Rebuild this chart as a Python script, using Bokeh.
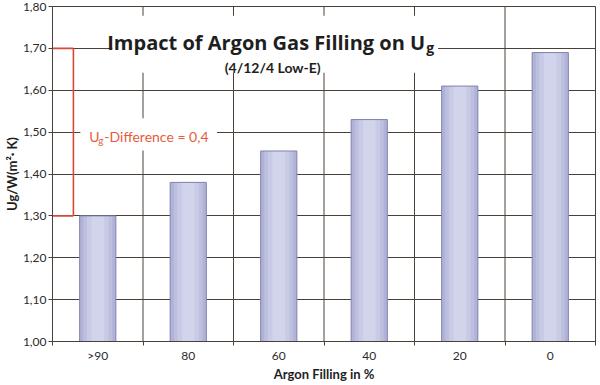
from bokeh.plotting import figure
from bokeh.models import (Range1d, FixedTicker, CustomJSTickFormatter, Label,
                          BoxAnnotation, ColumnDataSource, Span)
from bokeh.embed import file_html
from bokeh.resources import INLINE

# ---- data ----
categories = [">90", "80", "60", "40", "20", "0"]
ug_values = [1.30, 1.38, 1.455, 1.53, 1.61, 1.69]
ug_difference = 0.4
y_ticks = [1.00, 1.10, 1.20, 1.30, 1.40, 1.50, 1.60, 1.70, 1.80]

title_main = "Impact of Argon Gas Filling on U"
title_sub = "g"
subtitle = "(4/12/4 Low-E)"
x_label = "Argon Filling in %"
y_label = "Ug/W(m\u00b2\u00b7 K)"
diff_main = "U"
diff_sub = "g"
diff_text = "-Difference = 0,4"

# ---- style ----
FONT = "Lato"
TITLE_FONT = "Open Sans"
GRID = "#4a4038"
RED = "#d5483a"
TEXT_RED = "#e65c3c"
DARK = "#1e1e1e"

n = len(categories)
centers = [i + 0.5 for i in range(n)]
bounds = list(range(n + 1))

p = figure(width=600, height=385,
           x_range=Range1d(0, n), y_range=Range1d(y_ticks[0], y_ticks[-1]),
           output_backend="svg", toolbar_location=None,
           min_border_left=50, min_border_right=5,
           min_border_top=6, min_border_bottom=44)
p.background_fill_color = "white"
p.border_fill_color = "white"
p.outline_line_color = GRID

p.xgrid.visible = False
p.ygrid.ticker = FixedTicker(ticks=y_ticks)
p.ygrid.grid_line_color = GRID
p.ygrid.grid_line_width = 1
for b in bounds:
    p.add_layout(Span(location=b, dimension="height", line_color=GRID,
                      line_width=1, level="underlay"))

xa = p.xaxis[0]
xa.ticker = FixedTicker(ticks=centers, minor_ticks=bounds)
xa.major_label_overrides = {c: lab for c, lab in zip(centers, categories)}
xa.major_tick_line_color = None
xa.major_tick_in = 0
xa.major_tick_out = 0
xa.minor_tick_in = 0
xa.minor_tick_out = 4
xa.minor_tick_line_color = GRID
xa.axis_line_color = GRID
xa.major_label_text_font = FONT
xa.major_label_text_font_size = "12px"
xa.major_label_text_color = "#2b2b2b"
xa.major_label_standoff = 2
xa.axis_label = x_label
xa.axis_label_text_font = FONT
xa.axis_label_text_font_style = "bold"
xa.axis_label_text_font_size = "13px"
xa.axis_label_text_color = DARK
xa.axis_label_standoff = 0

ya = p.yaxis[0]
ya.ticker = FixedTicker(ticks=y_ticks)
ya.formatter = CustomJSTickFormatter(code="return tick.toFixed(2).replace('.', ',');")
ya.major_tick_in = 0
ya.major_tick_out = 4
ya.major_tick_line_color = GRID
ya.minor_tick_line_color = None
ya.axis_line_color = GRID
ya.major_label_text_font = FONT
ya.major_label_text_font_size = "12px"
ya.major_label_text_color = "#2b2b2b"
ya.major_label_standoff = 2
ya.axis_label = y_label
ya.axis_label_text_font = FONT
ya.axis_label_text_font_style = "bold"
ya.axis_label_text_font_size = "13px"
ya.axis_label_text_color = DARK
ya.axis_label_standoff = 0

# ---- bars (layered to imitate horizontal gradient) ----
src = ColumnDataSource(dict(x=centers, top=ug_values, bottom=[y_ticks[0]] * n))
bar_layers = [(0.40, "#b0b2d8"), (0.32, "#bdbfdf"), (0.24, "#c8cae6"), (0.14, "#d2d4eb")]
for w, c in bar_layers:
    p.vbar(x="x", top="top", bottom="bottom", width=w, source=src,
           fill_color=c, line_color=None)
p.vbar(x="x", top="top", bottom="bottom", width=bar_layers[0][0], source=src,
       fill_color=None, line_color="#7f83ad", line_width=1)

# ---- white boxes behind texts ----
p.add_layout(BoxAnnotation(left=0.661, right=4.261, bottom=1.642, top=1.778,
                           fill_color="white", fill_alpha=1, line_color=None))
p.add_layout(BoxAnnotation(left=0.308, right=1.817, bottom=1.456, top=1.533,
                           fill_color="white", fill_alpha=1, line_color=None))

# ---- difference bracket ----
low = ug_values[0]
high = ug_values[0] + ug_difference
bx = 0.231
br = ColumnDataSource(dict(x0=[bx, 0, 0], y0=[low, high, low],
                           x1=[bx, bx, bx], y1=[high, high, low]))
p.segment(x0="x0", y0="y0", x1="x1", y1="y1", source=br,
          line_color=RED, line_width=1.6)


def lab(**kw):
    d = dict(text_font=FONT, text_baseline="alphabetic", text_align="left",
             text_color=DARK)
    d.update(kw)
    p.add_layout(Label(**d))


# title
lab(x=4.118, y=1.714, text=title_main, text_font=TITLE_FONT, text_font_style="bold",
    text_font_size="20px", text_align="right")
lab(x=4.13, y=1.702, text=title_sub, text_font=TITLE_FONT, text_font_style="bold",
    text_font_size="14px")
lab(x=2.433, y=1.654, text=subtitle, text_font_style="bold",
    text_font_size="14px", text_align="center")

# difference label
lab(x=0.407, y=1.490, text=diff_main, text_font_size="14px", text_color=TEXT_RED)
lab(x=0.506, y=1.482, text=diff_sub, text_font_size="10px", text_color=TEXT_RED)
lab(x=0.5725, y=1.490, text=diff_text, text_font_size="14px", text_color=TEXT_RED)

open("out.html", "w").write(file_html(p, INLINE))
